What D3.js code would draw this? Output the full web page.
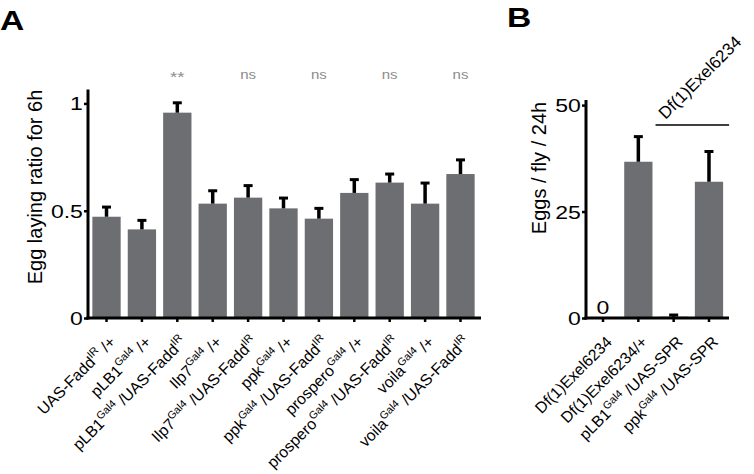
<!DOCTYPE html>
<html>
<head>
<meta charset="utf-8">
<script src="https://cdn.jsdelivr.net/npm/d3@7"></script>
<style>
  html, body { margin: 0; padding: 0; background: #fff; }
  svg { display: block; }
  text { font-family: "Liberation Sans", Arial, Helvetica, sans-serif; }
</style>
</head>
<body>
<script>
// ---------- Data (panel A) ----------
const A_CATS = [
  "UAS-Fadd^IR /+",
  "pLB1^Gal4 /+",
  "pLB1^Gal4 /UAS-Fadd^IR",
  "Ilp7^Gal4 /+",
  "Ilp7^Gal4 /UAS-Fadd^IR",
  "ppk^Gal4 /+",
  "ppk^Gal4 /UAS-Fadd^IR",
  "prospero^Gal4 /+",
  "prospero^Gal4 /UAS-Fadd^IR",
  "voila^Gal4 /+",
  "voila^Gal4 /UAS-Fadd^IR"
];
const A_MEAN = [0.472, 0.413, 0.957, 0.533, 0.561, 0.511, 0.463, 0.583, 0.631, 0.533, 0.671];
const A_SEM  = [0.045, 0.042, 0.046, 0.060, 0.056, 0.048, 0.048, 0.062, 0.040, 0.096, 0.066];
const A_SIG  = ["", "", "**", "", "ns", "", "ns", "", "ns", "", "ns"];
const A_TICKS = [0, 0.5, 1];
const A_YLABEL = "Egg laying ratio for 6h";

// ---------- Data (panel B) ----------
const B_CATS = [
  "Df(1)Exel6234",
  "Df(1)Exel6234/+",
  "pLB1^Gal4 /UAS-SPR",
  "ppk^Gal4 /UAS-SPR"
];
const B_MEAN = [0, 36.7, 0.3, 32.0];
const B_SEM  = [0, 5.9, 0.4, 7.1];
const B_ANNOT = ["0", "", "", ""];
const B_TICKS = [0, 25, 50];
const B_YLABEL = "Eggs / fly / 24h";
const B_BRACKET_LABEL = "Df(1)Exel6234";
const B_BRACKET_CATS = [2, 3];

// ---------- Drawing ----------
const W = 754, H = 474;
const BAR = "#6d6e71";
const svg = d3.select("body").append("svg").attr("width", W).attr("height", H);
svg.append("rect").attr("width", W).attr("height", H).attr("fill", "#fff");

function addLabel(g, str, fs) {
  // parse "^token" as superscripts
  const parts = str.split(/(\^[A-Za-z0-9]+)/).filter(s => s.length);
  let raised = false;
  parts.forEach(p => {
    if (p[0] === "^") {
      g.append("tspan").attr("font-size", fs * 0.68).attr("dy", -fs * 0.42).text(p.slice(1));
      raised = true;
    } else {
      const t = g.append("tspan").text(p);
      if (raised) { t.attr("dy", fs * 0.42); raised = false; }
    }
  });
}

function panel(opts) {
  const { cats, mean, sem, ticks, x0, x1, axisEnd, yTop, yMax, ylabel, titleX, titleY } = opts;
  const y0 = 318;
  const y = d3.scaleLinear().domain([0, yMax]).range([y0, yTop]);
  const x = d3.scaleBand().domain(d3.range(cats.length)).range([x0, x1])
    .paddingInner(0.2).paddingOuter(opts.po);
  const g = svg.append("g");

  // bars
  g.selectAll("rect.bar").data(mean).join("rect")
    .attr("x", (d, i) => x(i)).attr("width", x.bandwidth())
    .attr("y", d => y(d)).attr("height", d => y0 - y(d))
    .attr("fill", BAR);

  // error bars (upper)
  const eb = g.selectAll("g.eb").data(mean.map((m, i) => ({ m, s: sem[i], i })).filter(d => d.m > 0 || d.s > 0))
    .join("g");
  eb.append("line")
    .attr("x1", d => x(d.i) + x.bandwidth() / 2).attr("x2", d => x(d.i) + x.bandwidth() / 2)
    .attr("y1", d => y(d.m)).attr("y2", d => y(d.m + d.s))
    .attr("stroke", "#000").attr("stroke-width", 3.5);
  eb.append("line")
    .attr("x1", d => x(d.i) + x.bandwidth() / 2 - 4.5).attr("x2", d => x(d.i) + x.bandwidth() / 2 + 4.5)
    .attr("y1", d => y(d.m + d.s)).attr("y2", d => y(d.m + d.s))
    .attr("stroke", "#000").attr("stroke-width", 3);

  // y axis
  const ya = g.append("g").attr("transform", `translate(${x0},0)`)
    .call(d3.axisLeft(y).tickValues(ticks).tickSize(4).tickFormat(d => String(d)));
  ya.select(".domain").remove();
  ya.selectAll(".tick line").attr("stroke", "#000").attr("stroke-width", 2.5);
  ya.selectAll(".tick text")
    .attr("font-size", 18).attr("fill", "#000")
    .attr("x", -4).attr("dy", "0.36em")
    .attr("transform", "scale(1.28,1)")
    .style("font-family", '"Liberation Sans", Arial, sans-serif');

  // x axis ticks
  const xa = g.append("g").attr("transform", `translate(0,${y0})`)
    .call(d3.axisBottom(x).tickSize(4).tickFormat(""));
  xa.select(".domain").remove();
  xa.selectAll(".tick line").attr("stroke", "#000").attr("stroke-width", 2.5);

  // axis lines
  g.append("line").attr("x1", x0).attr("x2", x0).attr("y1", yTop).attr("y2", y0 + 1.5)
    .attr("stroke", "#000").attr("stroke-width", 3);
  g.append("line").attr("x1", x0 - 1.5).attr("x2", axisEnd).attr("y1", y0).attr("y2", y0)
    .attr("stroke", "#000").attr("stroke-width", 3);

  // category labels
  cats.forEach((c, i) => {
    const cx = x(i) + x.bandwidth() / 2 + 10, cy = 343;
    const t = g.append("text")
      .attr("transform", `translate(${cx},${cy}) rotate(-45)`)
      .attr("text-anchor", "end").attr("font-size", 15.8).attr("fill", "#000");
    addLabel(t, c, 15.8);
  });

  // y title
  g.append("text")
    .attr("transform", `translate(${titleX},${titleY}) rotate(-90)`)
    .attr("text-anchor", "middle").attr("font-size", 20).attr("fill", "#000")
    .text(ylabel);

  return { x, y, g };
}

// Panel A
const PA = panel({
  cats: A_CATS, mean: A_MEAN, sem: A_SEM, ticks: A_TICKS,
  x0: 88, x1: 479, po: 0.123, axisEnd: 481, yTop: 89.5, yMax: 1.065,
  ylabel: A_YLABEL, titleX: 42, titleY: 187
});
PA.g.selectAll("text.sig").data(A_SIG).join("text")
  .attr("class", "sig")
  .attr("transform", (d, i) => `translate(${PA.x(i) + PA.x.bandwidth() / 2},${d === "**" ? 82 : 79}) scale(1.25,1)`)
  .attr("text-anchor", "middle").attr("font-size", d => d === "**" ? 15 : 12).attr("fill", "#8c8c8c")
  .text(d => d);

// Panel B
const PB = panel({
  cats: B_CATS, mean: B_MEAN, sem: B_SEM, ticks: B_TICKS,
  x0: 586, x1: 726, po: 0.082, axisEnd: 729, yTop: 100, yMax: 51.2,
  ylabel: B_YLABEL, titleX: 546, titleY: 168
});
PB.g.selectAll("text.annot").data(B_ANNOT).join("text")
  .attr("class", "annot")
  .attr("transform", (d, i) => `translate(${PB.x(i) + PB.x.bandwidth() / 2},${314}) scale(1.28,1)`)
  .attr("text-anchor", "middle").attr("font-size", 18).attr("fill", "#000")
  .text(d => d);

// bracket line + label
const bx1 = PB.x(B_BRACKET_CATS[0]) - 4;
const bx2 = PB.x(B_BRACKET_CATS[1]) + PB.x.bandwidth() + 6;
PB.g.append("line").attr("x1", bx1).attr("x2", bx2).attr("y1", 125).attr("y2", 125)
  .attr("stroke", "#000").attr("stroke-width", 1.5);
PB.g.append("text")
  .attr("transform", `translate(${bx1 + 10},${120}) rotate(-45)`)
  .attr("font-size", 17).attr("fill", "#000")
  .text(B_BRACKET_LABEL);

// panel letters
svg.append("text").attr("transform", "translate(0,30) scale(1.2,1)")
  .attr("font-size", 28).attr("font-weight", "bold").attr("fill", "#000").text("A");
svg.append("text").attr("transform", "translate(507,27) scale(1.2,1)")
  .attr("font-size", 28).attr("font-weight", "bold").attr("fill", "#000").text("B");
</script>
</body>
</html>
